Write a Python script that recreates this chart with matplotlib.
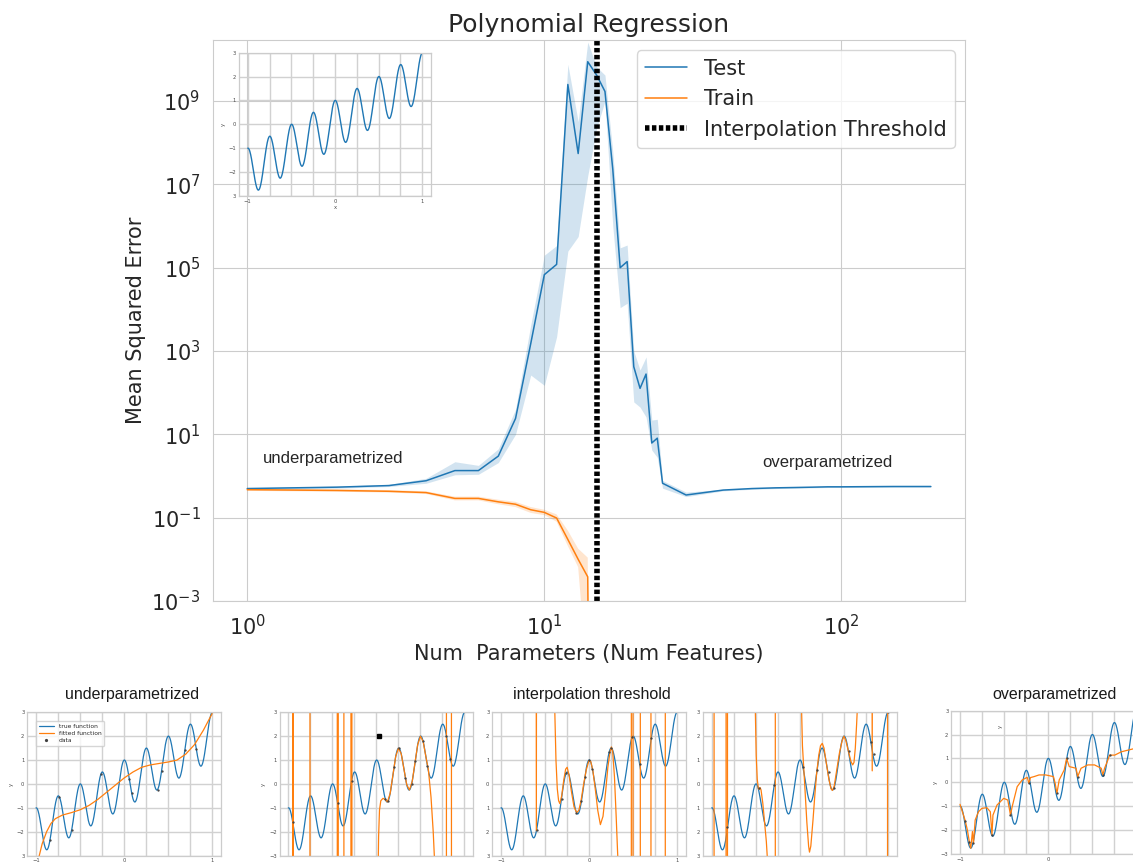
import numpy as np
import matplotlib
matplotlib.use("Agg")
import matplotlib.pyplot as plt
import seaborn as sns

sns.set_style("whitegrid")
plt.rcParams['font.family'] = ['DejaVu Sans']

C0 = '#1f77b4'
C1 = '#ff7f0e'

# ---------------- main chart data ----------------
n_params = [1, 2, 3, 4, 5, 6, 7, 8, 9, 10, 11, 12, 13, 14, 15, 16, 17, 18, 19, 20,
            21, 22, 23, 24, 25, 30, 40, 50, 60, 70, 80, 90, 100, 150, 200]
test_mse = [0.50, 0.54, 0.59, 0.77, 1.35, 1.35, 3.0, 24, 1.5e3, 6.8e4, 1.2e5, 2.5e9, 5.5e7,
            8.8e9, 4.2e9, 1.7e9, 2.3e7, 1.0e5, 1.4e5, 420, 127, 280, 6.2, 8.1, 0.67, 0.35,
            0.46, 0.50, 0.52, 0.53, 0.54, 0.55, 0.55, 0.56, 0.56]
test_lo = [0.48, 0.51, 0.56, 0.67, 1.07, 1.1, 2.1, 10, 265, 150, 2.2e3, 2.5e5, 5.6e5,
           1.6e7, 2.2e8, 1.0e9, 1.0e6, 1.1e4, 1.4e4, 60, 45, 26, 4.2, 2.8, 0.51, 0.32,
           0.44, 0.48, 0.50, 0.51, 0.52, 0.53, 0.53, 0.54, 0.54]
test_hi = [0.52, 0.57, 0.63, 0.88, 2.2, 1.8, 4.5, 40, 4.2e3, 2.0e5, 3.4e5, 7.6e9, 3.2e8,
           2.6e10, 6.6e9, 4.2e9, 6.0e7, 3.0e5, 3.5e5, 1.0e3, 350, 720, 22, 23, 0.78, 0.41,
           0.48, 0.52, 0.54, 0.55, 0.56, 0.57, 0.57, 0.58, 0.58]
train_mse = [0.47, 0.45, 0.43, 0.40, 0.29, 0.29, 0.24, 0.21, 0.155, 0.134, 0.098, 0.030,
             0.010, 0.0038] + [1e-25] * 21
train_lo = [0.44, 0.42, 0.40, 0.37, 0.26, 0.26, 0.21, 0.18, 0.13, 0.115, 0.08, 0.021,
            0.0065, 1e-5] + [1e-26] * 21
train_hi = [0.50, 0.48, 0.46, 0.43, 0.32, 0.32, 0.27, 0.24, 0.18, 0.155, 0.12, 0.049,
            0.018, 0.011] + [1e-24] * 21
threshold = 15

# ---------------- true function ----------------
true_slope = 2.0
true_cycles = 4
xs = np.linspace(-1, 1, 600)
true_y = true_slope * xs + np.cos(2 * np.pi * true_cycles * xs)

# ---------------- bottom panels: fitted curves and data ----------------
fit1_x = [-0.97, -0.93, -0.88, -0.83, -0.78, -0.7, -0.6, -0.5, -0.4, -0.3, -0.2, -0.1, 0.0,
          0.1, 0.2, 0.3, 0.4, 0.5, 0.6, 0.7, 0.8, 0.9, 1.0]
fit1_y = [-3.1, -2.5, -2.0, -1.65, -1.45, -1.3, -1.2, -1.08, -0.9, -0.65, -0.35, -0.05, 0.25,
          0.5, 0.7, 0.8, 0.86, 0.92, 1.0, 1.25, 1.65, 2.25, 2.95]
data1_x = [-0.841, -0.735, -0.596, -0.263, 0.058, 0.085, 0.38, 0.425, 0.69, 0.82]
data1_y = [-2.337, -0.54, -1.938, 0.421, 0.228, -0.365, -0.232, 0.541, 1.443, 1.453]

fit2_x = [-1.0, -0.952, -0.950, -0.944, -0.942, -0.755, -0.753, -0.445, -0.443, -0.434, -0.432,
          -0.370, -0.368, -0.290, -0.288, -0.279, -0.277, 0.0, 0.018, 0.025, 0.035, 0.05, 0.075,
          0.10, 0.125, 0.15625, 0.1875, 0.21875, 0.25, 0.28125, 0.3125, 0.34375, 0.375, 0.40625,
          0.4375, 0.46875, 0.5, 0.53125, 0.5625, 0.59, 0.62, 0.645, 0.665, 0.68, 0.794, 0.796,
          0.851, 0.853, 1.05]
fit2_y = [-40, -40, 40, 40, -40, -40, 40, 40, -40, -40, 40,
          40, -40, -40, 40, 40, -40, -40, -4.0, -2.2, -1.1, -0.7, -0.6,
          -0.65, -0.75, -0.395, 0.375, 1.145, 1.5, 1.27, 0.625, -0.02, -0.25, 0.105,
          0.875, 1.645, 2.0, 1.77, 1.125, 0.6, -0.55, -2.0, -3.6, -40, -40, 40,
          40, -40, -40]
data2_x = [-0.951, -0.441, -0.282, 0.10, 0.135, 0.20, 0.26, 0.33, 0.40, 0.44, 0.53, 0.58,
           0.795, 0.84]
data2_y = [-1.57, -0.794, 0.13, -0.609, -0.699, 0.709, 1.488, 0.234, -0.009, 0.942, 1.789,
           0.734, 2.016, 1.043]

fit3_x = [-1.0, -0.607, -0.598, -0.589, -0.40, -0.39, -0.375, -0.36, -0.345, -0.331, -0.31,
          -0.285, -0.265, -0.248, -0.225, -0.2, -0.17, -0.14, -0.115, -0.09, -0.06, -0.03, 0.0,
          0.02, 0.045, 0.075, 0.10, 0.13, 0.16, 0.19, 0.215, 0.24, 0.255, 0.27, 0.29, 0.31,
          0.325, 0.335, 0.34, 0.481, 0.483, 0.500, 0.502, 0.583, 0.585, 0.704, 0.706, 0.867,
          0.869, 1.05]
fit3_y = [40, 40, -1.95, 40, 40, 3.3, 1.0, -0.2, -0.7, -0.82, -0.5,
          0.2, 0.62, 0.70, 0.35, -0.3, -0.95, -1.2, -1.1, -0.7, 0.0, 0.6, 0.98,
          0.95, 0.55, -0.3, -1.1, -1.7, -1.35, -0.3, 0.7, 1.35, 1.55, 1.35, 0.3, -1.4,
          -2.8, -3.6, -40, -40, 40, 40, -40, -40, 40, 40, -40, -40,
          40, 40]
data3_x = [-0.596, -0.312, -0.26, -0.142, -0.085, -0.047, 0.0, 0.04, 0.23, 0.255, 0.49,
           0.576, 0.709]
data3_y = [-1.938, -0.611, 0.448, -1.194, -0.705, 0.286, 1.0, 0.616, 1.336, 1.502, 1.949,
           0.819, 1.934]

fit4_x = [-1.0, -0.974, -0.972, -0.838, -0.836, -0.822, -0.820, -0.52, -0.506, -0.495, -0.483,
          -0.47, -0.46, -0.45, -0.44, -0.42, -0.40, -0.38, -0.365, -0.355, -0.279, -0.277,
          0.005, 0.019, 0.03, 0.045, 0.06, 0.08, 0.10, 0.11, 0.125, 0.15, 0.17, 0.19, 0.215,
          0.235, 0.255, 0.275, 0.30, 0.33, 0.355, 0.37, 0.39, 0.42, 0.45, 0.48, 0.5, 0.52,
          0.55, 0.58, 0.6, 0.615, 0.63, 0.645, 0.655, 0.665, 0.806, 0.822, 0.838, 0.995,
          0.997, 1.05]
fit4_y = [-40, -40, 40, 40, -40, -40, 40, 40, 3.3, 1.2, 0.2,
          -0.2, -0.22, -0.15, -0.25, -0.8, -1.6, -2.4, -3.3, -40, -40, 40,
          40, 3.3, 1.6, 0.65, -0.3, -1.6, -2.6, -2.85, -2.6, -1.5, -0.5, 0.4, 1.2,
          1.6, 1.7, 1.5, 0.9, 0.2, -0.2, -0.27, -0.1, 0.6, 1.3, 1.8, 2.0, 1.85,
          1.4, 0.95, 0.8, 0.9, 1.5, 2.5, 3.3, 40, 40, 0.55, 40, 40,
          -40, -40]
data4_x = [-0.829, -0.468, -0.297, 0.038, 0.198, 0.331, 0.388, 0.559, 0.806, 0.837, 0.996]
data4_y = [-1.79, -0.18, -0.04, 0.70, 0.59, 0.52, -0.18, 1.40, 1.77, 1.26, 3.0]

fit5_x = [-1.0, -0.943, -0.916, -0.893, -0.878, -0.859, -0.847, -0.828, -0.79, -0.752, -0.695,
          -0.656, -0.637, -0.626, -0.58, -0.504, -0.458, -0.427, -0.408, -0.351, -0.294,
          -0.237, -0.218, -0.2, -0.16, -0.103, -0.027, 0.061, 0.08, 0.1, 0.126, 0.183, 0.21,
          0.24, 0.317, 0.336, 0.374, 0.45, 0.527, 0.603, 0.622, 0.641, 0.679, 0.698, 0.756,
          0.832, 0.985, 1.1]
fit5_y = [-0.92, -1.58, -2.0, -2.51, -2.76, -2.06, -2.55, -1.58, -1.23, -1.09, -1.06,
          -1.23, -2.2, -1.37, -0.95, -0.67, -0.74, -1.37, -1.02, -0.18, 0.1,
          0.21, -0.04, 0.2, 0.24, 0.31, 0.31, 0.24, -0.04, -0.46, 0.10, 0.52, 1.0,
          0.66, 0.59, 0.24, 0.59, 0.73, 0.73, 0.59, 0.31, 0.59, 0.94, 1.14, 1.14,
          1.28, 1.42, 1.5]
data5_x = [-0.94, -0.893, -0.847, -0.637, -0.427, -0.218, 0.1, 0.21, 0.336, 0.622, 0.698]
data5_y = [-1.6, -2.5, -2.55, -2.2, -1.37, -0.04, -0.46, 1.0, 0.24, 0.31, 1.14]

W, H = 1133, 863
fig = plt.figure(figsize=(W / 100, H / 100), dpi=100)


def rect(l, t, r, b):
    return [l / W, 1 - b / H, (r - l) / W, (b - t) / H]


# ---------------- main axes ----------------
ax = fig.add_axes(rect(213, 40, 965, 601))
ax.plot(n_params, test_mse, color=C0, lw=1.1, label='Test')
ax.fill_between(n_params, test_lo, test_hi, color=C0, alpha=0.2, lw=0)
ax.plot(n_params, train_mse, color=C1, lw=1.1, label='Train')
ax.fill_between(n_params, train_lo, train_hi, color=C1, alpha=0.2, lw=0)
ax.axvline(threshold, color='k', lw=4, linestyle=(0, (0.8, 0.45)),
           label='Interpolation Threshold')
ax.set_xscale('log')
ax.set_yscale('log')
ax.set_xlim(0.767, 260.6)
ax.set_ylim(1e-3, 2.92e10)
ax.set_yticks([1e-3, 1e-1, 1e1, 1e3, 1e5, 1e7, 1e9])
ax.set_xticks([1, 10, 100])
ax.minorticks_off()
ax.tick_params(labelsize=15, pad=9, length=0, colors='.15')
ax.set_xlabel('Num  Parameters (Num Features)', fontsize=15, color='.15')
ax.set_ylabel('Mean Squared Error', fontsize=15, color='.15')
ax.set_title('Polynomial Regression', fontsize=18, color='.15')
ax.legend(fontsize=15, loc='upper right')
ax.text(1.13, 2.6, 'underparametrized', family='Liberation Sans', fontsize=12, va='center')
ax.text(54.2, 2.1, 'overparametrized', family='Liberation Sans', fontsize=12, va='center')
for s in ax.spines.values():
    s.set_color('.8')

SMALL = 3.8
xt = np.arange(-1, 1.01, 0.25)
xl_full = ['−1', '', '', '', '0', '', '', '', '1']
DOT = dict(ls='none', marker='.', ms=1.3, color='.25')


def small_axes(r, ylabels, xlabels, ylab=True, xlab=False):
    a = fig.add_axes(r)
    a.patch.set_alpha(0)
    a.set_xlim(-1.1, 1.1)
    a.set_ylim(-3, 3)
    a.set_xticks(xt)
    a.set_xticklabels(xlabels)
    a.set_yticks(range(-3, 4))
    a.set_yticklabels(ylabels)
    a.tick_params(labelsize=SMALL, pad=2, length=0, colors='.3')
    a.grid(True, color='.82', lw=1.0)
    for s in a.spines.values():
        s.set_color('.8')
        s.set_linewidth(0.9)
    if ylab:
        a.set_ylabel('y', fontsize=SMALL, labelpad=2, color='.3')
    if xlab:
        a.set_xlabel('x', fontsize=SMALL, labelpad=1, color='.3')
    return a


# ---------------- inset ----------------
ins = small_axes(rect(239, 52.7, 431, 196), ['3', '−2', '−1', '0', '1', '2', '3'], xl_full,
                 ylab=True, xlab=True)
ins.plot(xs, true_y, color=C0, lw=1.0)

# ---------------- bottom panels ----------------
p1 = small_axes(rect(27.2, 712.3, 221, 855.7), ['3', '−2', '−1', '0', '1', '2', '3'], xl_full)
p1.plot(xs, true_y, color=C0, lw=0.9, label='true function')
p1.plot(fit1_x, fit1_y, color=C1, lw=0.9, label='fitted function')
p1.plot(data1_x, data1_y, label='data', **DOT)
p1.legend(fontsize=4.3, loc='upper left', bbox_to_anchor=(0.03, 0.96), handlelength=2.5,
          borderpad=0.5, labelspacing=0.3, frameon=True, markerscale=2)

p2 = small_axes(rect(279.5, 712.3, 473.3, 855.7), ['−3', '−2', '−1', '0', '1', '2', '3'],
                [''] * 9)
p2.plot(xs, true_y, color=C0, lw=0.9)
p2.plot(fit2_x, fit2_y, color=C1, lw=0.9)
p2.plot(data2_x, data2_y, **DOT)
p2.plot([0.032], [2.02], 'ks', ms=2.3)

p3 = small_axes(rect(492.2, 712.3, 685.7, 855.7), ['3', '2', '1', '0', '1', '2', '3'], xl_full,
                ylab=False)
p3.plot(xs, true_y, color=C0, lw=0.9)
p3.plot(fit3_x, fit3_y, color=C1, lw=0.9)
p3.plot(data3_x, data3_y, **DOT)

p4 = small_axes(rect(702.9, 712.3, 896.7, 855.7), ['3', '2', '1', '0', '1', '2', '3'],
                [''] * 9, ylab=False)
p4.plot(xs, true_y, color=C0, lw=0.9)
p4.plot(fit4_x, fit4_y, color=C1, lw=0.9)
p4.plot(data4_x, data4_y, **DOT)

p5 = small_axes(rect(951.2, 710.7, 1145, 854), ['−3', '−2', '−1', '0', '1', '2', '3'],
                ['−1', '', '', '', '0', '', '', '', ''])
p5.plot(xs, true_y, color=C0, lw=0.9)
p5.plot(fit5_x, fit5_y, color=C1, lw=0.9)
p5.plot(data5_x, data5_y, **DOT)
fig.text(1000 / W, 1 - 726 / H, 'y', rotation=90, fontsize=SMALL, color='.3',
         ha='center', va='center')

tkw = dict(family='Liberation Sans', fontsize=11.5, ha='center', va='center', color='.1')
fig.text(131.7 / W, 1 - 694 / H, 'underparametrized', **tkw)
fig.text(592.3 / W, 1 - 694 / H, 'interpolation threshold', **tkw)
fig.text(1055 / W, 1 - 694 / H, 'overparametrized', **tkw)

fig.savefig('out.png', dpi=100)
